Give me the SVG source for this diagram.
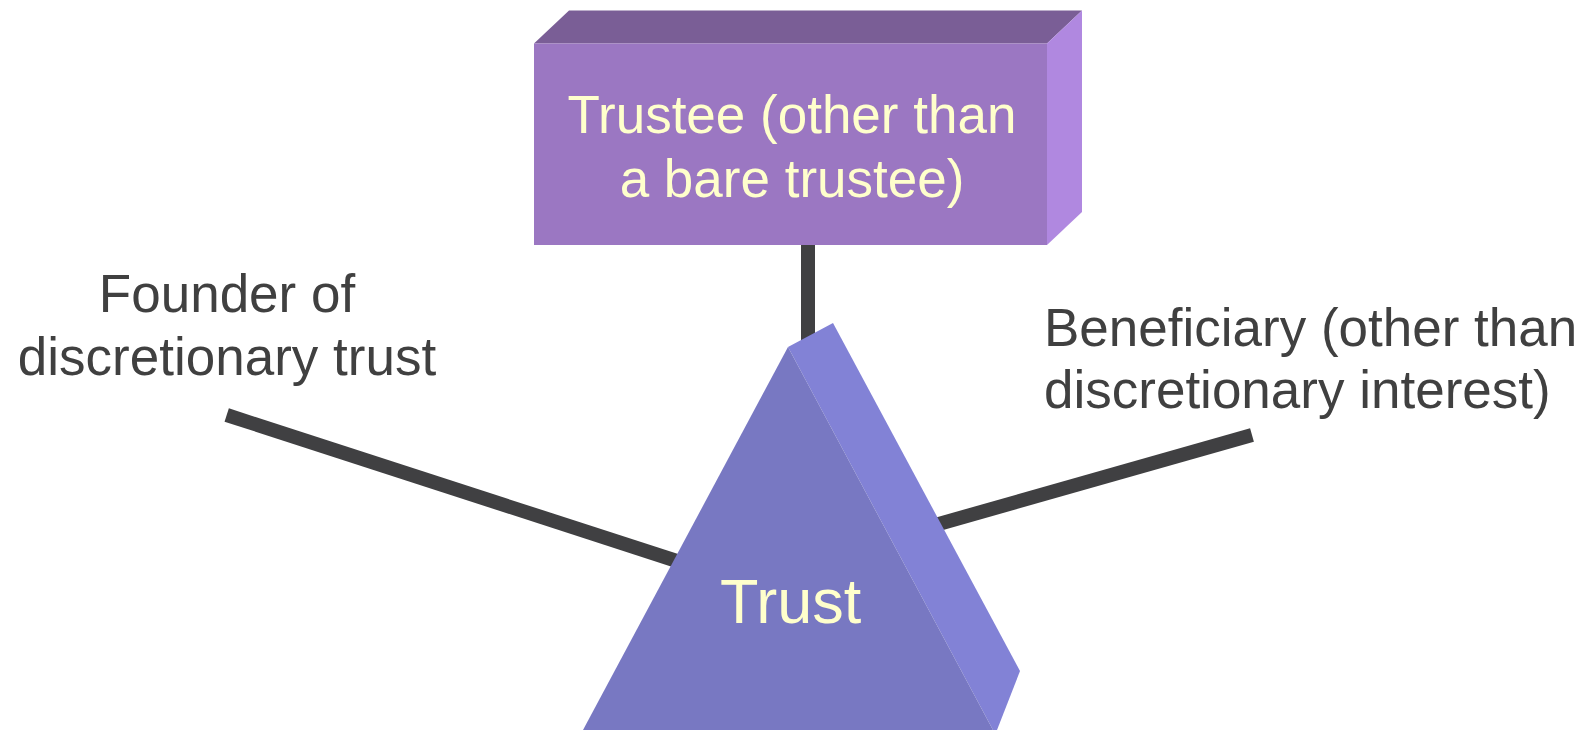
<svg xmlns="http://www.w3.org/2000/svg" width="1587" height="730" viewBox="0 0 1587 730">
<style>
.conn{stroke:#404042;stroke-width:14;fill:none;stroke-linecap:butt}
.lbl{font-family:"Liberation Sans",Arial,sans-serif;font-size:53px;fill:#404040}
.in{font-family:"Liberation Sans",Arial,sans-serif;fill:#FFFFCC;text-anchor:middle}
</style>
<rect width="1587" height="730" fill="#FFFFFF"/>
<g id="connectors">
<line class="conn" x1="808" y1="240" x2="808" y2="345"/>
<line class="conn" x1="226.7" y1="415" x2="720" y2="575"/>
<line class="conn" x1="1252" y1="435" x2="900" y2="535"/>
</g>
<g id="trustee">
<polygon points="534,43.5 569,10.5 1082,10.5 1047,43.5" fill="#7A5E96"/>
<polygon points="1047,43.5 1082,10.5 1082,212 1047,245" fill="#B088E0"/>
<rect x="534" y="43.5" width="513" height="201.5" fill="#9B77C2"/>
<text class="in" font-size="53" x="792" y="132.6">Trustee (other than</text>
<text class="in" font-size="53" x="792" y="197.4">a bare trustee)</text>
</g>
<g id="trust">
<polygon points="788,347 833,323 1020,671 997,730 993,730" fill="#8282D6"/>
<polygon points="788,347 993,730 583,730" fill="#7878C2"/>
<text class="in" font-size="63" x="790.7" y="622.7">Trust</text>
</g>
<g id="founder">
<text class="lbl" text-anchor="middle" x="227" y="311.7">Founder of</text>
<text class="lbl" text-anchor="middle" x="227" y="374.5">discretionary trust</text>
</g>
<g id="beneficiary">
<text class="lbl" x="1044" y="346">Beneficiary (other than</text>
<text class="lbl" x="1044" y="408">discretionary interest)</text>
</g>
</svg>
